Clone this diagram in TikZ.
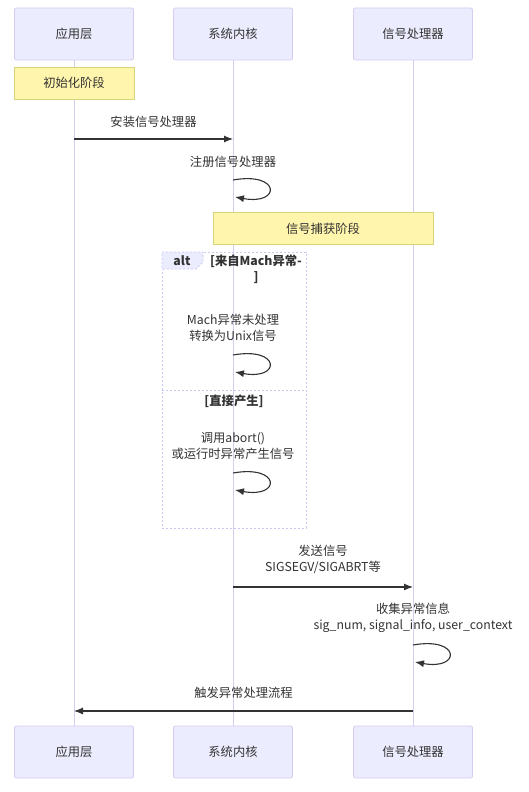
\documentclass[tikz,border=0pt]{standalone}
\usepackage{fontspec}
\setmainfont{Noto Sans CJK SC}
\usetikzlibrary{arrows.meta}
\definecolor{actfill}{HTML}{ECECFF}
\definecolor{actline}{HTML}{D6CCF2}
\definecolor{notefill}{HTML}{FFF5AD}
\definecolor{noteline}{HTML}{D4D47A}
\definecolor{txt}{HTML}{333333}
\definecolor{altline}{HTML}{C8C8F5}
\tikzset{
  actor/.style={draw=actline, fill=actfill, rounded corners=2pt, minimum width=119pt, minimum height=52pt, inner sep=0pt, text=txt, font=\fontsize{12.3}{15}\selectfont, line width=0.8pt},
  note/.style={draw=noteline, fill=notefill, inner sep=0pt, text=txt, font=\fontsize{12.3}{15}\selectfont, line width=0.8pt},
  lbl/.style={text=txt, inner sep=0pt, align=center, font=\fontsize{12.3}{15.5}\selectfont},
  life/.style={draw=actline, line width=0.8pt},
  msg/.style={draw=txt, line width=1.1pt, -{Latex[length=9pt,width=7pt]}},
  altbox/.style={draw=altline, line width=0.9pt, dash pattern=on 2pt off 2pt},
}
\begin{document}
\begin{tikzpicture}[x=1pt,y=-1pt]
\useasboundingbox (0,0) rectangle (528,792);
\fill[white] (0,0) rectangle (528,792);
% actors
\node[actor] (a1) at (74,34) {应用层};
\node[actor] (a2) at (233,34) {系统内核};
\node[actor] (a3) at (413,34) {信号处理器};
\node[actor] (b1) at (74,752) {应用层};
\node[actor] (b2) at (233,752) {系统内核};
\node[actor] (b3) at (413,752) {信号处理器};
% lifelines
\draw[life] (a1.south) -- (b1.north);
\draw[life] (a2.south) -- (b2.north);
\draw[life] (a3.south) -- (b3.north);
% notes
\node[note, minimum width=120pt, minimum height=32pt] (n1) at (74,83) {初始化阶段};
\node[note, minimum width=220pt, minimum height=32pt] (n2) at (323,228.5) {信号捕获阶段};
% message 1
\coordinate (m1s) at (74,139);
\coordinate (m1e) at (233,139);
\node[lbl] (t1) at (153.5,122) {安装信号处理器};
\draw[msg] (m1s) -- (m1e);
% self loop 1
\node[lbl] (t2) at (233,162) {注册信号处理器};
\coordinate (l1s) at (233,180);
\coordinate (l1e) at (235,197);
\draw[msg] (l1s) .. controls (281,171.5) and (281,205.5) .. (l1e);
% alt box
\draw[altbox] (162,252) rectangle (306,528);
\draw[altbox, fill=actfill] (162,252) -- (203,252) -- (203,262) -- (196,269) -- (162,269) -- cycle;
\node[lbl, font=\fontsize{12.3}{15}\selectfont\bfseries] (altl) at (182,261) {alt};
\node[lbl, font=\fontsize{12.3}{16}\selectfont\bfseries] (c1) at (256,269) {[来自Mach异常-\\]};
\node[lbl] (t3) at (233,328) {Mach异常未处理\\转换为Unix信号};
\coordinate (l2s) at (233,355);
\coordinate (l2e) at (235,372);
\draw[msg] (l2s) .. controls (281,346.5) and (281,380.5) .. (l2e);
\draw[altbox] (162,390) -- (306,390);
\node[lbl, font=\fontsize{12.3}{15}\selectfont\bfseries] (c2) at (234,401) {[直接产生]};
\node[lbl] (t4) at (233,446) {调用abort()\\或运行时异常产生信号};
\coordinate (l3s) at (233,473);
\coordinate (l3e) at (235,490);
\draw[msg] (l3s) .. controls (281,464.5) and (281,498.5) .. (l3e);
% message send
\node[lbl] (t5) at (323,559.5) {发送信号\\SIGSEGV/SIGABRT等};
\coordinate (m2s) at (233,587);
\coordinate (m2e) at (413,587);
\draw[msg] (m2s) -- (m2e);
% self loop 4
\node[lbl] (t6) at (413,618) {收集异常信息\\sig\_num, signal\_info, user\_context};
\coordinate (l4s) at (413,645);
\coordinate (l4e) at (415,662);
\draw[msg] (l4s) .. controls (461,636.5) and (461,670.5) .. (l4e);
% message back
\node[lbl] (t7) at (243.5,693) {触发异常处理流程};
\coordinate (m3s) at (413,711);
\coordinate (m3e) at (74,711);
\draw[msg] (m3s) -- (m3e);
\end{tikzpicture}
\end{document}
